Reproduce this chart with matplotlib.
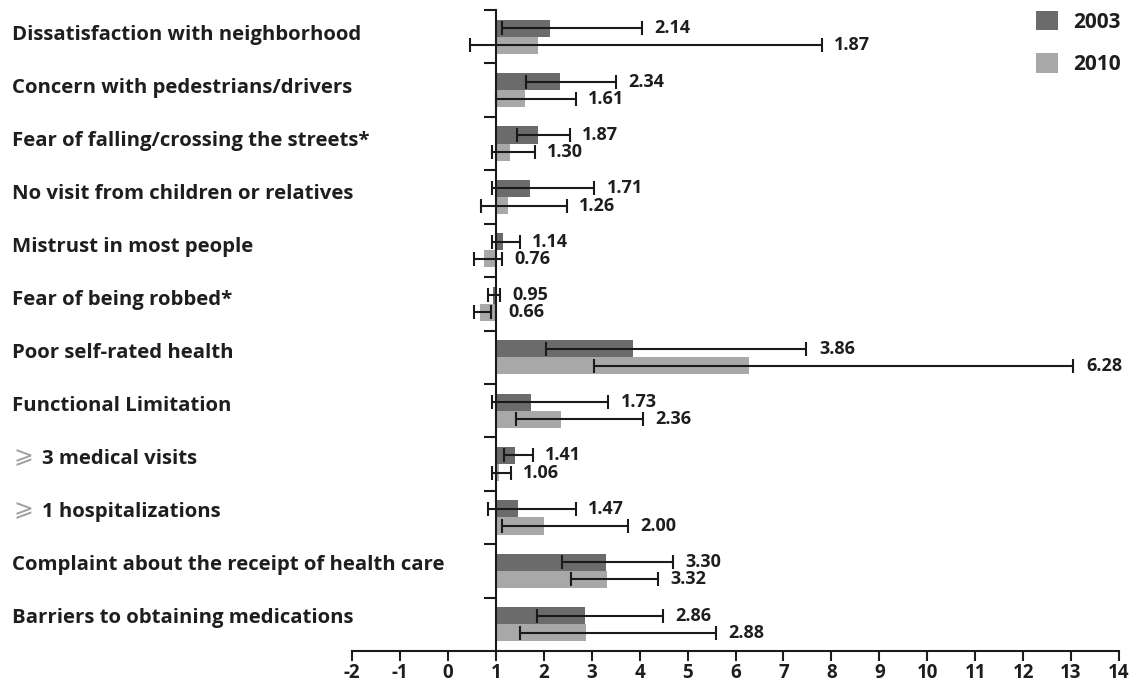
import matplotlib
matplotlib.use("Agg")
import matplotlib.pyplot as plt
import matplotlib.transforms as mtransforms
from matplotlib.patches import Patch
import numpy as np

plt.rcParams['font.family'] = ['Open Sans', 'DejaVu Sans']
plt.rcParams['font.weight'] = 'bold'

categories = [
    "Dissatisfaction with neighborhood",
    "Concern with pedestrians/drivers",
    "Fear of falling/crossing the streets*",
    "No visit from children or relatives",
    "Mistrust in most people",
    "Fear of being robbed*",
    "Poor self-rated health",
    "Functional Limitation",
    "\u2a7e 3 medical visits",
    "\u2a7e 1 hospitalizations",
    "Complaint about the receipt of health care",
    "Barriers to obtaining medications",
]
or_2003 = [2.14, 2.34, 1.87, 1.71, 1.14, 0.95, 3.86, 1.73, 1.41, 1.47, 3.30, 2.86]
lo_2003 = [1.13, 1.63, 1.44, 0.92, 0.92, 0.83, 2.04, 0.92, 1.17, 0.83, 2.38, 1.86]
hi_2003 = [4.05, 3.50, 2.54, 3.05, 1.50, 1.08, 7.48, 3.34, 1.77, 2.67, 4.70, 4.49]
or_2010 = [1.87, 1.61, 1.30, 1.26, 0.76, 0.66, 6.28, 2.36, 1.06, 2.00, 3.32, 2.88]
lo_2010 = [0.46, 1.00, 0.92, 0.69, 0.54, 0.54, 3.05, 1.42, 0.92, 1.13, 2.57, 1.50]
hi_2010 = [7.80, 2.67, 1.81, 2.48, 1.13, 0.90, 13.05, 4.07, 1.31, 3.76, 4.38, 5.59]
years = ["2003", "2010"]
xticks = list(range(-2, 15))

c2003 = "#6b6b6b"
c2010 = "#a8a8a8"
txt = "#1e1e1e"

fig = plt.figure(figsize=(11.33, 6.82), dpi=100)
ax = fig.add_axes([352/1133, 1-651/682, (1119-352)/1133, (651-10)/682])

n = len(categories)
y = np.arange(n)
h = 0.32
base = 1.0

def draw(vals, lo, hi, offset, color):
    vals = np.array(vals); lo = np.array(lo); hi = np.array(hi)
    yy = y + offset
    ax.barh(yy, vals - base, left=base, height=h, color=color, zorder=2)
    ax.errorbar(vals, yy, xerr=[vals - lo, hi - vals], fmt='none', ecolor='#1a1a1a',
                elinewidth=1.5, capsize=5, capthick=1.5, zorder=3)
    for v, up, yv in zip(vals, hi, yy):
        ax.annotate(f"{v:.2f}", xy=(max(up, base), yv), xytext=(9, 0),
                    textcoords='offset points', va='center', ha='left',
                    fontsize=13, fontweight='bold', color=txt)

draw(or_2003, lo_2003, hi_2003, -h/2, c2003)
draw(or_2010, lo_2010, hi_2010, h/2, c2010)

ax.set_xlim(-2, 14)
ax.set_ylim(n - 0.5, -0.5)
ax.set_xticks(xticks)
ax.set_xticklabels([str(t) for t in xticks], fontsize=13.5, fontweight='bold', color=txt)
ax.tick_params(axis='x', direction='out', length=7, width=1.5, pad=2, colors=txt)

ax.spines['left'].set_position(('data', base))
ax.spines['top'].set_visible(False)
ax.spines['right'].set_visible(False)
for s in ['left', 'bottom']:
    ax.spines[s].set_linewidth(1.5)
    ax.spines[s].set_color('#1a1a1a')
ax.set_yticks(np.arange(n) - 0.5)
ax.set_yticklabels([])
ax.tick_params(axis='y', direction='out', length=9, width=1.5, colors='#1a1a1a')

trans = mtransforms.blended_transform_factory(fig.transFigure, ax.transData)
for i, c in enumerate(categories):
    yl = i - 0.03 - 0.008 * i
    if c.startswith("\u2a7e"):
        sym, rest = c.split(" ", 1)
        ax.text(13/1133, yl - 0.06, sym, transform=trans, ha='left', va='center',
                fontsize=17, fontweight='normal', color='#a0a0a0',
                family=['DejaVu Sans'])
        ax.text(42/1133, yl, rest, transform=trans, ha='left', va='center',
                fontsize=14.7, fontweight='bold', color=txt)
    else:
        ax.text(12/1133, yl, c, transform=trans, ha='left', va='center',
                fontsize=14.7, fontweight='bold', color=txt)

handles = [Patch(facecolor=c2003, edgecolor='none'), Patch(facecolor=c2010, edgecolor='none')]
leg = fig.legend(handles, years, loc='upper right', bbox_to_anchor=(1142/1133, 1 + 10/682),
                 frameon=False, handlelength=1.05, handleheight=1.05,
                 handletextpad=0.75, labelspacing=1.0, borderpad=0.5,
                 prop={'weight': 'bold', 'size': 15})
for t in leg.get_texts():
    t.set_color(txt)

fig.savefig("out.png", dpi=100)
